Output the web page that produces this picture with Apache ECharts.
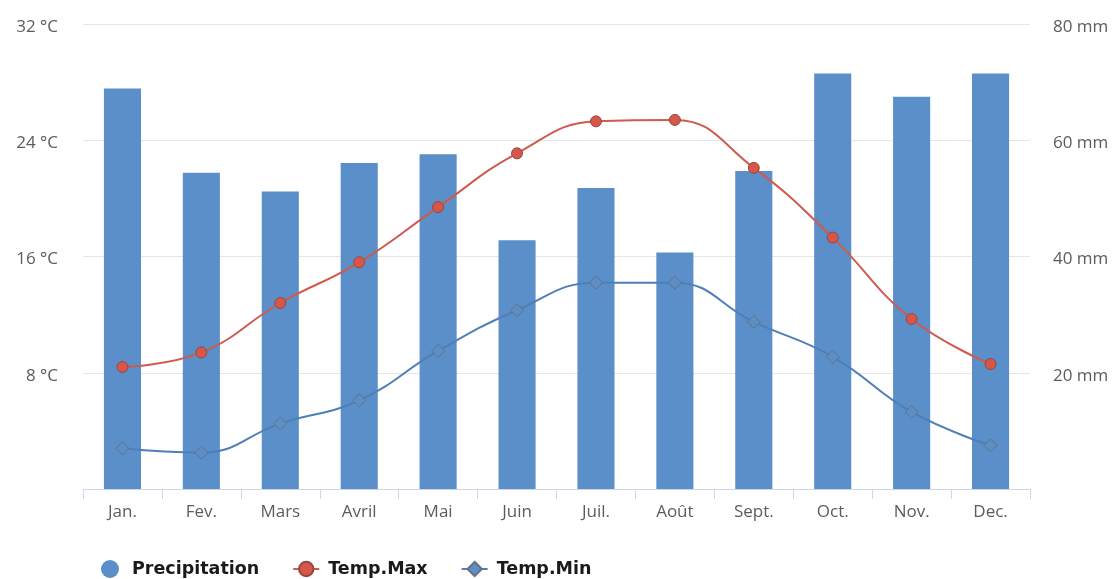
<!DOCTYPE html>
<html>
<head>
<meta charset="utf-8">
<script src="https://cdn.jsdelivr.net/npm/echarts@6/dist/echarts.min.js"></script>
<style>
html,body{margin:0;padding:0;background:#fff;}
#chart{width:1120px;height:579px;}
</style>
</head>
<body>
<div id="chart"></div>
<script>
const categories = ['Jan.', 'Fev.', 'Mars', 'Avril', 'Mai', 'Juin', 'Juil.', 'Août', 'Sept.', 'Oct.', 'Nov.', 'Dec.'];
const precipitation = [68.9, 54.4, 51.2, 56.1, 57.6, 42.8, 51.8, 40.7, 54.7, 71.5, 67.5, 71.5];
const tempMax = [8.4, 9.4, 12.8, 15.6, 19.4, 23.1, 25.3, 25.4, 22.1, 17.3, 11.7, 8.6];
const tempMin = [2.8, 2.5, 4.5, 6.1, 9.5, 12.3, 14.2, 14.2, 11.5, 9.1, 5.3, 3.0];
const tempTicks = [0, 8, 16, 24, 32];
const rainTicks = [0, 20, 40, 60, 80];

const chart = echarts.init(document.getElementById('chart'), null, {renderer: 'canvas'});
const axisFont = {color: '#5c5c5c', fontSize: 17, fontFamily: 'Open Sans'};
const richY = {a: {color: '#5c5c5c', fontSize: 17, fontFamily: 'Open Sans', padding: [6, 0, 0, 0]}};
chart.setOption({
  animation: false,
  backgroundColor: '#ffffff',
  grid: {left: 83, right: 90, top: 24, bottom: 90, containLabel: false},
  legend: {
    left: 96, top: 555,
    itemGap: 33, itemWidth: 26, itemHeight: 18,
    textStyle: {color: '#1a1a1a', fontSize: 17.5, fontWeight: 'bold', fontFamily: 'DejaVu Sans', padding: [0, 0, 0, 4]},
    data: [
      {name: 'Precipitation', icon: 'circle'},
      {name: 'Temp.Max'},
      {name: 'Temp.Min'}
    ]
  },
  xAxis: {
    type: 'category',
    data: categories,
    axisLine: {lineStyle: {color: '#ccd6eb'}},
    axisTick: {show: true, length: 10, lineStyle: {color: '#ccd6eb'}},
    axisLabel: Object.assign({margin: 15}, axisFont)
  },
  yAxis: [
    {
      type: 'value', min: tempTicks[0], max: tempTicks[tempTicks.length - 1], interval: 8,
      axisLine: {show: false}, axisTick: {show: false},
      splitLine: {lineStyle: {color: '#e6e6e6'}},
      axisLabel: Object.assign({margin: 25, rich: richY, formatter: v => v === 0 ? '' : '{a|' + v + ' °C}'}, axisFont)
    },
    {
      type: 'value', min: rainTicks[0], max: rainTicks[rainTicks.length - 1], interval: 20,
      axisLine: {show: false}, axisTick: {show: false},
      splitLine: {show: false},
      axisLabel: Object.assign({margin: 23, rich: richY, formatter: v => v === 0 ? '' : '{a|' + v + ' mm}'}, axisFont)
    }
  ],
  series: [
    {
      name: 'Precipitation', type: 'bar', yAxisIndex: 1,
      data: precipitation, barWidth: '47%',
      itemStyle: {color: '#5b8fc9'}
    },
    {
      name: 'Temp.Max', type: 'line', yAxisIndex: 0,
      data: tempMax, smooth: 0.45,
      symbol: 'circle', symbolSize: 11,
      lineStyle: {color: '#cf5a4d', width: 2},
      itemStyle: {color: '#d8554a', borderColor: '#8e4a42', borderWidth: 1}
    },
    {
      name: 'Temp.Min', type: 'line', yAxisIndex: 0,
      data: tempMin, smooth: 0.45,
      symbol: 'diamond', symbolSize: 13,
      lineStyle: {color: '#4f7fb8', width: 2},
      itemStyle: {color: '#5b8fc9', borderColor: '#6a6f7a', borderWidth: 1}
    }
  ]
});
</script>
</body>
</html>
